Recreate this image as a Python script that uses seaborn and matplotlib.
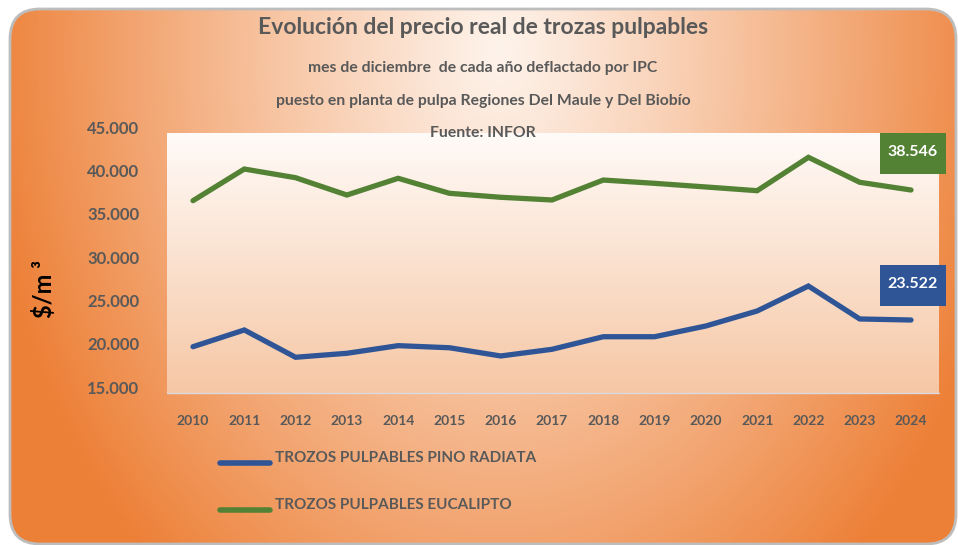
import numpy as np
import pandas as pd
import matplotlib
matplotlib.use("Agg")
import matplotlib.pyplot as plt
import seaborn as sns
from matplotlib.patches import FancyBboxPatch, Rectangle
from matplotlib.lines import Line2D

# ---------------- data ----------------
years = [2010, 2011, 2012, 2013, 2014, 2015, 2016, 2017, 2018, 2019, 2020, 2021, 2022, 2023, 2024]
pino_radiata = [19650, 21580, 18430, 18890, 19770, 19530, 18580, 19350, 20800, 20800, 22040, 23770, 26650, 22850, 22730]
eucalipto = [36500, 40150, 39150, 37150, 39080, 37350, 36890, 36580, 38880, 38500, 38080, 37650, 41500, 38620, 37730]
series_names = ["TROZOS PULPABLES PINO RADIATA", "TROZOS PULPABLES EUCALIPTO"]
series_colors = ["#2F5597", "#548235"]
y_ticks = [15000, 20000, 25000, 30000, 35000, 40000, 45000]
box_labels = ["23.522", "38.546"]

title = "Evolución del precio real de trozas pulpables"
subtitles = ["mes de diciembre  de cada año deflactado por IPC",
             "puesto en planta de pulpa Regiones Del Maule y Del Biobío",
             "Fuente: INFOR"]
y_label = "$/m ³"

df = pd.DataFrame({
    "year": years * 2,
    "value": pino_radiata + eucalipto,
    "series": [series_names[0]] * len(years) + [series_names[1]] * len(years),
})

# ---------------- figure ----------------
sns.set_style("white")
FONT = ["Lato", "DejaVu Sans"]
plt.rcParams["font.family"] = FONT

W, H = 958, 545
fig = plt.figure(figsize=(W / 100, H / 100), dpi=100)
fig.patch.set_facecolor("white")

# background axes in pixel coordinates
bg = fig.add_axes([0, 0, 1, 1])
bg.axis("off")

yy, xx = np.mgrid[0:H, 0:W]
cx, cy, rx, ry = 500, 50, 520, 690
t = np.sqrt(((xx - cx) / rx) ** 2 + ((yy - cy) / ry) ** 2)
t = np.clip(t, 0, 1) ** 1.1
c0 = np.array([254, 243, 235]) / 255
c1 = np.array([237, 128, 55]) / 255
img = c0[None, None, :] * (1 - t[..., None]) + c1[None, None, :] * t[..., None]
im = bg.imshow(img, extent=(0, W, H, 0), zorder=0, interpolation="bilinear")
frame = FancyBboxPatch((10, 9), 946, 535, boxstyle="round,pad=0,rounding_size=30",
                       facecolor="none", edgecolor="#BDBDBD", linewidth=2, zorder=2)
bg.add_patch(frame)
im.set_clip_path(frame)

# plot area gradient
px0, px1, py0, py1 = 167, 939, 133, 393
g = np.linspace(0, 1, 200)[:, None, None]
top = np.array([255, 251, 248]) / 255
bot = np.array([246, 199, 165]) / 255
pimg = top * (1 - g) + bot * g
pimg = np.repeat(pimg, 2, axis=1)
bg.imshow(pimg, extent=(px0, px1, py1, py0), zorder=1, aspect="auto", interpolation="bilinear")
bg.add_line(Line2D([px0, px1], [py1, py1], color="#D9D9E0", linewidth=1, zorder=1.5))
bg.set_xlim(0, W)
bg.set_ylim(H, 0)

# title texts
gray = "#595959"
bg.text(483, 28, title, ha="center", va="center", fontsize=16.5, fontweight="bold", color=gray)
for s, y in zip(subtitles, [68, 101, 133]):
    bg.text(483, y, s, ha="center", va="center", fontsize=11.3, fontweight="bold", color=gray, zorder=5)

# y label
bg.text(44, 289, y_label, ha="center", va="center", rotation=90, fontsize=17, fontweight="bold", color="black")

# main axes
ax_l, ax_r, ax_t, ax_b = 167, 939, 127, 387
ax = fig.add_axes([ax_l / W, (H - ax_b) / H, (ax_r - ax_l) / W, (ax_b - ax_t) / H])
ax.set_facecolor("none")
sns.lineplot(data=df, x="year", y="value", hue="series", palette=dict(zip(series_names, series_colors)),
             linewidth=3.8, legend=False, ax=ax, solid_capstyle="round", solid_joinstyle="miter")
for ln in ax.lines:
    ln.set_clip_on(False)
step = (911 - 193) / 14
ax.set_xlim(2010 - (193 - ax_l) / step, 2024 + (ax_r - 911) / step)
ax.set_ylim(15000, 45000)
ax.set_yticks(y_ticks)
ax.set_yticklabels([f"{v:,}".replace(",", ".") for v in y_ticks])
ax.set_xticks(years)
ax.set_xticklabels([str(y) for y in years])
ax.tick_params(axis="y", length=0, pad=20, labelsize=12, labelcolor=gray)
ax.tick_params(axis="x", length=0, pad=20, labelsize=10, labelcolor=gray)
for lab in ax.get_xticklabels() + ax.get_yticklabels():
    lab.set_fontweight("bold")
ax.set_xlabel("")
ax.set_ylabel("")
for sp in ax.spines.values():
    sp.set_visible(False)

# value boxes
for lab, col, yc in zip(box_labels, series_colors, [285.5, 153.5]):
    bg.add_patch(Rectangle((880, yc - 20.5), 66, 41, facecolor=col, edgecolor="none", zorder=6))
    bg.text(913, yc - 1, lab, ha="center", va="center", color="white", fontsize=11.5,
            fontweight="bold", zorder=7)

# legend
for name, col, yl in zip(series_names, series_colors, [463, 510]):
    bg.add_line(Line2D([220, 270], [yl, yl], color=col, linewidth=4, solid_capstyle="round", zorder=5))
    bg.text(275, yl - 5, name, ha="left", va="center", fontsize=11, fontweight="bold", color=gray, zorder=5)

fig.savefig("out.png", dpi=100)
